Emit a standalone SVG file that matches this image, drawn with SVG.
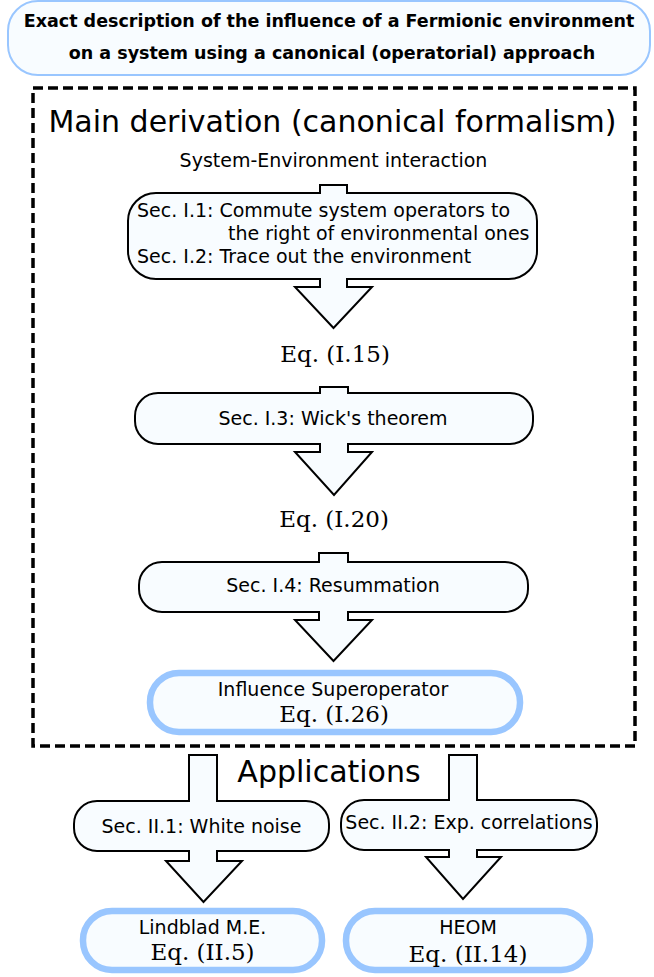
<svg xmlns="http://www.w3.org/2000/svg" width="654" height="977" viewBox="0 0 654 977">
<style>
.bg{fill:#ffffff}
.box{fill:#f8fcff;stroke:#000;stroke-width:2}
.res{fill:#f8fcff;stroke:#99c6ff;stroke-width:6.5}
.ttl{fill:#f8fcff;stroke:#99c6ff;stroke-width:2}
.arr{fill:#f8fcff;stroke:#000;stroke-width:2;stroke-linejoin:miter}
.frame{fill:none;stroke:#000;stroke-width:3.5;stroke-dasharray:10 5}
.t{font-family:"DejaVu Sans","Liberation Sans",sans-serif;font-size:19px;fill:#000}
.tc{text-anchor:middle}
.big{font-family:"DejaVu Sans","Liberation Sans",sans-serif;font-size:30px;fill:#000;text-anchor:middle}
.bold{font-family:"DejaVu Sans","Liberation Sans",sans-serif;font-weight:bold;font-size:17.5px;fill:#000;text-anchor:middle}
.eq{font-family:"DejaVu Serif","Liberation Serif",serif;font-size:23px;fill:#000;text-anchor:middle}
</style>
<rect class="bg" x="0" y="0" width="654" height="977"/>

<g id="title">
<rect class="ttl" x="8" y="1" width="642" height="74" rx="30"/>
<text class="bold" x="329" y="27">Exact description of the influence of a Fermionic environment</text>
<text class="bold" x="332" y="59">on a system using a canonical (operatorial) approach</text>
</g>

<g id="main-frame">
<rect class="frame" x="33" y="88" width="602" height="658"/>
<text class="big" x="332.5" y="132">Main derivation (canonical formalism)</text>
</g>

<g id="system-environment">
<text class="t tc" x="333.5" y="167">System-Environment interaction</text>
</g>

<g id="sec-I1-I2">
<rect class="box" x="128" y="193" width="409" height="86" rx="28"/>
<text class="t" x="137" y="217">Sec. I.1: Commute system operators to</text>
<text class="t" x="228" y="240">the right of environmental ones</text>
<text class="t" x="137" y="263">Sec. I.2: Trace out the environment</text>
</g>

<g id="eq-I15">
<text class="eq" x="335" y="362">Eq. (I.15)</text>
</g>

<g id="sec-I3">
<rect class="box" x="135" y="393" width="398" height="51" rx="23"/>
<text class="t tc" x="333" y="425">Sec. I.3: Wick's theorem</text>
</g>

<g id="eq-I20">
<text class="eq" x="334" y="527">Eq. (I.20)</text>
</g>

<g id="sec-I4">
<rect class="box" x="139" y="562" width="389" height="50" rx="23"/>
<text class="t tc" x="333" y="592">Sec. I.4: Resummation</text>
</g>

<g id="influence">
<rect class="res" x="150" y="673" width="370" height="59" rx="29"/>
<text class="t tc" x="333" y="696">Influence Superoperator</text>
<text class="eq" x="334" y="722">Eq. (I.26)</text>
</g>

<g id="applications">
<text class="big" x="329" y="782">Applications</text>
</g>

<g id="sec-II1">
<rect class="box" x="74" y="801" width="255" height="50" rx="23"/>
<text class="t tc" x="201.5" y="833">Sec. II.1: White noise</text>
</g>

<g id="sec-II2">
<rect class="box" x="341" y="800" width="256" height="50" rx="23"/>
<text class="t tc" x="469" y="829">Sec. II.2: Exp. correlations</text>
</g>

<g id="lindblad">
<rect class="res" x="83" y="911" width="239" height="59" rx="29"/>
<text class="t tc" x="202.5" y="934">Lindblad M.E.</text>
<text class="eq" x="202.5" y="960">Eq. (II.5)</text>
</g>

<g id="heom">
<rect class="res" x="346" y="911" width="244" height="59" rx="29"/>
<text class="t tc" x="468" y="934">HEOM</text>
<text class="eq" x="468" y="962">Eq. (II.14)</text>
</g>

<g id="connectors">
<path class="arr" d="M320 194 V185 H347 V194"/>
<path class="arr" d="M320 278 V287 H295 L333.5 328 L372 287 H347 V278"/>
<path class="arr" d="M320 394 V387 H348 V394"/>
<path class="arr" d="M320 443 V452 H295 L334 495 L372 452 H348 V443"/>
<path class="arr" d="M319 563 V553 H348 V563"/>
<path class="arr" d="M319 611 V620 H295 L333.5 661 L372 620 H348 V611"/>
<path class="arr" d="M189 802 V755 H217 V802"/>
<path class="arr" d="M189 850 V861 H166 L203.5 902 L242 861 H217 V850"/>
<path class="arr" d="M449 801 V755 H477 V801"/>
<path class="arr" d="M449 849 V857 H426 L463 899 L501 857 H477 V849"/>
</g>
</svg>
